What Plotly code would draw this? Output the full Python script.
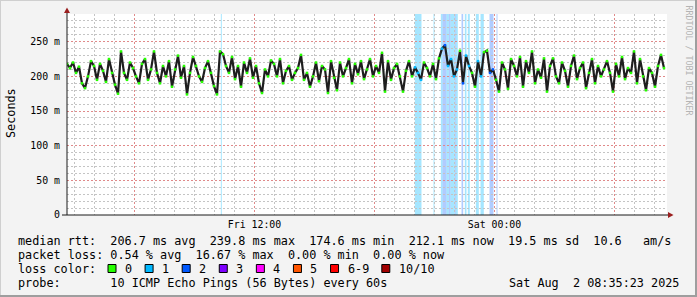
import plotly.graph_objects as go
import pandas as pd

# ---------------- data ----------------
start_time = "2025-08-01 02:37:30"
step = "9min"
median_ms = [
    218, 212, 220, 205, 214, 190, 183, 200, 222, 215, 195, 218, 208, 192, 225, 205, 188, 175, 236, 205,
    195, 220, 212, 200, 190, 218, 225, 195, 210, 236, 205, 190, 215, 200, 222, 185, 210, 230, 198, 215,
    174, 205, 228, 215, 200, 192, 212, 222, 205, 186, 174, 236, 232, 215, 205, 228, 196, 215, 185, 220,
    205, 226, 198, 215, 190, 176, 210, 200, 223, 218, 200, 225, 190, 208, 215, 195, 205, 212, 231, 195,
    205, 185, 200, 220, 193, 215, 210, 176, 222, 198, 180, 220, 200, 212, 225, 190, 218, 203, 222, 196,
    210, 225, 200, 215, 205, 234, 178, 222, 195, 212, 218, 200, 178, 208, 222, 200, 213, 205, 195, 220,
    212, 200, 218, 196, 226, 240, 245, 215, 225, 200, 210, 237, 190, 230, 215, 205, 185, 222, 200, 235,
    237, 205, 210, 195, 178, 220, 210, 182, 225, 215, 200, 228, 185, 222, 205, 236, 190, 210, 198, 226,
    178, 215, 226, 200, 190, 220, 208, 185, 215, 230, 196, 212, 220, 183, 205, 225, 190, 215, 200, 210,
    222, 205, 178, 218, 200, 228, 196, 212, 205, 236, 190, 225, 200, 180, 212, 205, 185, 215, 231, 212,
]

loss_from = ["2025-08-01 10:19", "2025-08-01 20:01", "2025-08-01 20:57", "2025-08-01 21:19",
             "2025-08-01 21:24", "2025-08-01 21:36", "2025-08-01 21:43", "2025-08-01 21:48",
             "2025-08-01 22:01", "2025-08-01 22:04", "2025-08-01 22:21", "2025-08-01 22:31",
             "2025-08-01 22:40", "2025-08-01 23:04", "2025-08-01 23:18", "2025-08-01 23:45",
             "2025-08-02 00:06"]
loss_to = ["2025-08-01 10:22", "2025-08-01 20:21", "2025-08-01 21:00", "2025-08-01 21:24",
           "2025-08-01 21:36", "2025-08-01 21:43", "2025-08-01 21:48", "2025-08-01 22:01",
           "2025-08-01 22:04", "2025-08-01 22:10", "2025-08-01 22:26", "2025-08-01 22:36",
           "2025-08-01 22:46", "2025-08-01 23:13", "2025-08-01 23:28", "2025-08-01 23:57",
           "2025-08-02 00:09"]
loss_level = [1, 1, 1, 1, 2, 1, 2, 1, 2, 1, 2, 1, 1, 1, 1, 2, 2]

loss_labels = ["0", "1", "2", "3", "4", "5", "6-9", "10/10"]
loss_colors = ["#26ff00", "#00b8ff", "#0059ff", "#7e00ff", "#ff00ff", "#ff5500", "#ff0000", "#a10000"]
loss_band_rgba = {1: "rgba(0,184,255,0.35)", 2: "rgba(0,89,255,0.31)"}

x_range = ["2025-08-01 02:37:30", "2025-08-02 08:37:30"]
major_ticks = ["2025-08-01 06:00", "2025-08-01 12:00", "2025-08-01 18:00",
               "2025-08-02 00:00", "2025-08-02 06:00"]
major_text = ["", "Fri 12:00", "", "Sat 00:00", ""]
y_ticks = [0, 50, 100, 150, 200, 250]
y_text = ["0", "50 m", "100 m", "150 m", "200 m", "250 m"]

line1 = "median rtt:  206.7 ms avg  239.8 ms max  174.6 ms min  212.1 ms now  19.5 ms sd  10.6   am/s"
line2 = "packet loss: 0.54 % avg  16.67 % max  0.00 % min  0.00 % now"
line3 = "loss color:"
line4 = "probe:       10 ICMP Echo Pings (56 Bytes) every 60s"
stamp = "Sat Aug  2 08:35:23 2025"

# ---------------- figure ----------------
W, H = 697, 297
L, R, T, B = 67, 30, 14, 82
PW, PH = W - L - R, H - T - B
MONO = "DejaVu Sans Mono"
DASH = "2px,2px"


def px(x):
    return (x - L) / PW


def py(y):
    return (H - B - y) / PH


def nb(s):
    return s.replace(" ", "\u00a0")


times = pd.date_range(start=start_time, periods=len(median_ms), freq=step)
lf = pd.to_datetime(loss_from)
lt = pd.to_datetime(loss_to)
pt_color = []
for t in times:
    lev = 0
    for a, b, lv in zip(lf, lt, loss_level):
        if a <= t <= b:
            lev = lv
    pt_color.append(loss_colors[lev])

# minor grid positions (hourly / every 10 ms), skipping the major ones
hours = pd.date_range("2025-08-01 03:00", "2025-08-02 08:00", freq="1h")
x_minor = [h.strftime("%Y-%m-%d %H:%M") for h in hours if h.hour % 6 != 0]
y_minor = [v for v in range(10, 290, 10) if v % 50 != 0]

fig = go.Figure()
fig.add_trace(go.Scatter(x=times, y=median_ms, mode="lines", line=dict(shape="linear", color="#1e1e1e", width=2.2),
                         hoverinfo="skip", showlegend=False))
fig.add_trace(go.Scatter(x=times, y=median_ms, mode="markers",
                         marker=dict(symbol="square", size=2.5, color=pt_color, line=dict(width=0)),
                         hoverinfo="skip", showlegend=False))

shapes = []
for a, b, lv in zip(loss_from, loss_to, loss_level):
    shapes.append(dict(type="rect", xref="x", yref="paper", x0=a, x1=b, y0=0, y1=1,
                       fillcolor=loss_band_rgba[lv], line=dict(width=0), layer="between"))
# axes lines + arrows
shapes.append(dict(type="line", xref="paper", yref="paper", x0=px(67), x1=px(67), y0=py(215), y1=py(9),
                   line=dict(color="#1a1a1a", width=1)))
shapes.append(dict(type="line", xref="paper", yref="paper", x0=px(62), x1=px(669), y0=py(215), y1=py(215),
                   line=dict(color="#1a1a1a", width=1)))
shapes.append(dict(type="path", xref="paper", yref="paper",
                   path=f"M {px(64)} {py(13)} L {px(70)} {py(13)} L {px(67)} {py(7.5)} Z",
                   fillcolor="#9b1f1f", line=dict(width=0)))
shapes.append(dict(type="path", xref="paper", yref="paper",
                   path=f"M {px(668)} {py(212)} L {px(668)} {py(218)} L {px(673.5)} {py(215)} Z",
                   fillcolor="#9b1f1f", line=dict(width=0)))
# frame
shapes.append(dict(type="rect", xref="paper", yref="paper", x0=px(0), x1=px(W), y0=py(0), y1=py(1),
                   fillcolor="#cfcfcf", line=dict(width=0)))
shapes.append(dict(type="rect", xref="paper", yref="paper", x0=px(0), x1=px(1), y0=py(0), y1=py(H),
                   fillcolor="#cfcfcf", line=dict(width=0)))
shapes.append(dict(type="rect", xref="paper", yref="paper", x0=px(0), x1=px(W), y0=py(H - 2), y1=py(H),
                   fillcolor="#9e9e9e", line=dict(width=0)))
shapes.append(dict(type="rect", xref="paper", yref="paper", x0=px(W - 2), x1=px(W), y0=py(0), y1=py(H),
                   fillcolor="#9e9e9e", line=dict(width=0)))

# loss colour legend boxes
annotations = []
x_cur = 108.0
for lab, col in zip(loss_labels, loss_colors):
    shapes.append(dict(type="rect", xref="paper", yref="paper", x0=px(x_cur), x1=px(x_cur + 8),
                       y0=py(272.5), y1=py(264.5), fillcolor=col, line=dict(color="#000000", width=1)))
    annotations.append(dict(xref="paper", yref="paper", x=px(x_cur + 15), y=py(268.5), xanchor="left",
                            yanchor="middle", text=nb(lab), showarrow=False,
                            font=dict(family=MONO, size=11.8, color="#000")))
    x_cur = x_cur + 15 + len(lab) * 7.09 + 15

for txt, yy in [(line1, 241), (line2, 255), (line3, 268.5), (line4, 283)]:
    annotations.append(dict(xref="paper", yref="paper", x=px(16), y=py(yy), xanchor="left", yanchor="middle",
                            text=nb(txt), showarrow=False, font=dict(family=MONO, size=11.8, color="#000")))
annotations.append(dict(xref="paper", yref="paper", x=px(680.5), y=py(283), xanchor="right", yanchor="middle",
                        text=nb(stamp), showarrow=False, font=dict(family=MONO, size=11.8, color="#000")))
annotations.append(dict(xref="paper", yref="paper", x=px(11), y=py(113), xanchor="center", yanchor="middle",
                        text="Seconds", textangle=-90, showarrow=False,
                        font=dict(family=MONO, size=11.8, color="#000")))
annotations.append(dict(xref="paper", yref="paper", x=px(688.5), y=py(60), xanchor="center", yanchor="middle",
                        text=nb("RRDTOOL / TOBI OETIKER"), textangle=90, showarrow=False,
                        font=dict(family=MONO, size=8.3, color="#b4b4b4")))

fig.update_layout(
    width=W, height=H, margin=dict(l=L, r=R, t=T, b=B, pad=0),
    paper_bgcolor="#f3f3f3", plot_bgcolor="#ffffff",
    shapes=shapes, annotations=annotations, showlegend=False,
    xaxis=dict(type="date", range=x_range, tickmode="array", tickvals=major_ticks, ticktext=major_text,
               showgrid=True, gridcolor="#e08a8a", griddash=DASH, gridwidth=1,
               showline=False, zeroline=False, ticks="", ticklabelstandoff=2,
               tickfont=dict(family=MONO, size=9.9, color="#000"),
               minor=dict(tickmode="array", tickvals=x_minor, showgrid=True,
                          gridcolor="#c4c4c4", griddash=DASH, gridwidth=1)),
    yaxis=dict(range=[0, 290], tickmode="array", tickvals=y_ticks, ticktext=y_text,
               showgrid=True, gridcolor="#e08a8a", griddash=DASH, gridwidth=1,
               showline=False, zeroline=False, ticks="", ticklabelstandoff=6,
               tickfont=dict(family=MONO, size=9.9, color="#000"),
               minor=dict(tickmode="array", tickvals=y_minor, showgrid=True,
                          gridcolor="#c4c4c4", griddash=DASH, gridwidth=1)),
)

fig.write_html("out.html")
